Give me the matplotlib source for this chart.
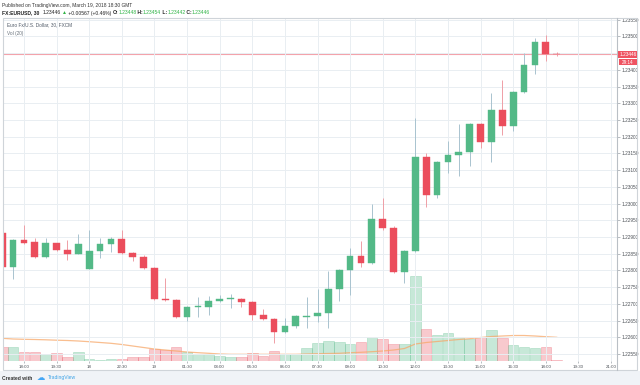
import matplotlib
matplotlib.use('Agg')
import matplotlib.pyplot as plt
import numpy as np
from matplotlib.patches import Rectangle
from matplotlib.lines import Line2D

# ---------------- data ----------------
candle_times = (['17:00', '17:30', '18:00', '18:30', '19:00', '19:30', '20:00', '20:30'] +
                ['21:00', '21:30', '22:00', '22:30', '23:00', '23:30'] +
                ['%02d:%02d' % (h, m) for h in range(0, 19) for m in (0, 30)])
opens = [1.22911, 1.22810, 1.22891, 1.22884, 1.22841, 1.22881, 1.22861, 1.22850,
         1.22805, 1.22858, 1.22878, 1.22894, 1.22853, 1.22841,
         1.22808, 1.22715, 1.22712, 1.22660, 1.22690, 1.22692, 1.22708, 1.22714,
         1.22715, 1.22705, 1.22666, 1.22656, 1.22615, 1.22634, 1.22662, 1.22664,
         1.22672, 1.22745, 1.22802, 1.22844, 1.22822, 1.22954, 1.22926, 1.22795,
         1.22858, 1.23138, 1.23026, 1.23124, 1.23144, 1.23154, 1.23238, 1.23183,
         1.23281, 1.23231, 1.23334, 1.23415, 1.23482, 1.23448]
highs = [1.22915, 1.22893, 1.22937, 1.22898, 1.22898, 1.22883, 1.22891, 1.22908,
         1.22921, 1.22898, 1.22901, 1.22921, 1.22855, 1.22845,
         1.22810, 1.22778, 1.22714, 1.22694, 1.22719, 1.22724, 1.22727, 1.22730,
         1.22718, 1.22707, 1.22684, 1.22658, 1.22659, 1.22667, 1.22719, 1.22744,
         1.22799, 1.22805, 1.22866, 1.22888, 1.22999, 1.23016, 1.22934, 1.22860,
         1.23257, 1.23151, 1.23127, 1.23188, 1.23239, 1.23242, 1.23240, 1.23332,
         1.23370, 1.23336, 1.23450, 1.23495, 1.23505, 1.23454]
lows = [1.22805, 1.22774, 1.22880, 1.22838, 1.22837, 1.22858, 1.22831, 1.22848,
        1.22803, 1.22838, 1.22856, 1.22850, 1.22828, 1.22805,
        1.22712, 1.22708, 1.22657, 1.22650, 1.22662, 1.22666, 1.22705, 1.22687,
        1.22690, 1.22652, 1.22653, 1.22582, 1.22612, 1.22627, 1.22627, 1.22645,
        1.22627, 1.22709, 1.22725, 1.22811, 1.22818, 1.22922, 1.22792, 1.22762,
        1.22855, 1.22991, 1.23016, 1.23091, 1.23081, 1.23111, 1.23166, 1.23123,
        1.23206, 1.23218, 1.23330, 1.23387, 1.23425, 1.23442]
closes = [1.22810, 1.22891, 1.22883, 1.22841, 1.22881, 1.22861, 1.22849, 1.22878,
          1.22858, 1.22879, 1.22894, 1.22853, 1.22841, 1.22807,
          1.22715, 1.22710, 1.22660, 1.22692, 1.22694, 1.22709, 1.22715, 1.22716,
          1.22705, 1.22666, 1.22656, 1.22615, 1.22634, 1.22664, 1.22665, 1.22672,
          1.22745, 1.22802, 1.22844, 1.22822, 1.22954, 1.22926, 1.22795, 1.22858,
          1.23138, 1.23026, 1.23124, 1.23144, 1.23154, 1.23238, 1.23183, 1.23281,
          1.23231, 1.23334, 1.23415, 1.23482, 1.23448, 1.23446]
volumes = [1400, 1400, 930, 900, 670, 770, 400, 870, 200, 100, 200, 230, 400, 400,
           1200, 1100, 1400, 870, 730, 730, 530, 430, 400, 770, 500, 1000, 700, 700,
           1330, 1770, 2000, 1870, 1700, 1870, 2370, 2170, 1670, 1670, 8500, 3200,
           2570, 2770, 2370, 2170, 2370, 3100, 2300, 1600, 1400, 1270, 1370, 100]
vol_ma20 = [2270, 2200, 2170, 2150, 2120, 2080, 2050, 2000, 1930, 1850, 1770, 1650,
            1500, 1350, 1200, 1100, 1000, 900, 830, 770, 700, 670, 670, 670, 670,
            670, 670, 670, 700, 730, 750, 770, 830, 870, 930, 1000, 1100, 1250, 1700,
            1850, 1950, 2050, 2150, 2230, 2350, 2450, 2500, 2550, 2550, 2500, 2430, 2370]
time_tick_labels = ['18:00', '19:30', '18', '22:30', '19', '01:30', '03:00', '04:30',
                    '06:00', '07:30', '09:00', '10:30', '12:00', '13:30', '15:00',
                    '16:30', '18:00', '19:30', '21:00']
price_ticks = [1.22550, 1.22600, 1.22650, 1.22700, 1.22750, 1.22800, 1.22850,
               1.22900, 1.22950, 1.23000, 1.23050, 1.23100, 1.23150, 1.23200,
               1.23250, 1.23300, 1.23350, 1.23400, 1.23450, 1.23500, 1.23550]
last_price = 1.23446
countdown = '29:14'

# ---------------- figure ----------------
W, H = 640, 385
fig = plt.figure(figsize=(6.4, 3.85), dpi=100)
fig.patch.set_facecolor('white')
FONT = ['Liberation Sans', 'DejaVu Sans']
plt.rcParams['font.family'] = FONT


def rect_px(x0, y0, x1, y1):
    return [x0 / W, 1 - y1 / H, (x1 - x0) / W, (y1 - y0) / H]


def fx(x):
    return x / W


def fy(y):
    return 1 - y / H


# bottom grey band
fig.add_artist(Rectangle((0, 0), 1, fy(371), transform=fig.transFigure,
                         facecolor='#f0f3f7', edgecolor='none', zorder=0))

UP = '#53b987'
DOWN = '#eb4d5c'
UP_WICK = '#a9c3cf'
DOWN_WICK = '#ef9ea6'

n = len(opens)
x = np.arange(n) - 2
o = np.array(opens); h = np.array(highs); l = np.array(lows); c = np.array(closes)
up = c >= o

axv = fig.add_axes(rect_px(3, 18, 617, 361))
ax = fig.add_axes(rect_px(3, 18, 617, 361), sharex=axv)
ax.set_zorder(axv.get_zorder() + 1)
ax.patch.set_visible(False)

xlim = (-1.93, 54.55)
axv.set_xlim(*xlim)
ax.set_ylim(1.22529, 1.23555)
axv.set_ylim(0, 34300)

# volume
vcols = [(83/255, 185/255, 135/255, 0.32) if u else (235/255, 77/255, 92/255, 0.30) for u in up]
vedge = [(83/255, 185/255, 135/255, 0.45) if u else (235/255, 77/255, 92/255, 0.45) for u in up]
axv.bar(x, volumes, width=0.97, color=vcols, edgecolor=vedge, linewidth=0.4, zorder=2)
axv.plot(x, vol_ma20, color='#f7a86a', lw=0.9, alpha=0.75, zorder=3)
for a in (axv, ax):
    for s in a.spines.values():
        s.set_visible(False)
axv.set_yticks([])
axv.tick_params(axis='x', which='both', length=0, labelbottom=False)

# grid / ticks
ax.set_xticks(np.arange(0, 55, 3))
ax.set_xticklabels(time_tick_labels)
ax.set_yticks(price_ticks)
# the tick label nearest the last-price label is hidden by it, as in the reference
ax.set_yticklabels(['' if abs(p - last_price) < 0.0002 else '%.5f' % p for p in price_ticks])
ax.grid(True, color='#e9eef2', lw=0.7, zorder=0)
ax.yaxis.tick_right()
ax.tick_params(axis='y', direction='out', length=2, width=0.5, color='#9aa1a8',
               labelsize=3.4, labelcolor='#4a4f55', pad=1.2)
ax.tick_params(axis='x', direction='out', length=1.5, width=0.5, color='#9aa1a8',
               labelsize=3.2, labelcolor='#4a4f55', pad=1.3)

# current price line
ax.axhline(last_price, color='#f3a3ab', lw=0.8, zorder=1)

# candles
body_bottom = np.minimum(o, c)
body_h = np.maximum(np.abs(c - o), 0.00002)
ax.vlines(x[up], l[up], h[up], color=UP_WICK, lw=0.7, zorder=3)
ax.vlines(x[~up], l[~up], h[~up], color=DOWN_WICK, lw=0.7, zorder=3)
cols = [UP if u else DOWN for u in up]
ax.bar(x, body_h, bottom=body_bottom, width=0.62, color=cols, edgecolor=cols,
       linewidth=0.3, zorder=4)

# frame lines
fig.add_artist(Rectangle((fx(3), fy(370)), fx(634), (370 - 18) / H, transform=fig.transFigure,
                         facecolor='none', edgecolor='#cfd4d9', lw=0.8, zorder=10))
fig.add_artist(Line2D([fx(617), fx(617)], [fy(18), fy(370)], transform=fig.transFigure,
                      color='#b9bfc5', lw=0.8, zorder=10))

# last price label
py = 54.3
fig.add_artist(Rectangle((fx(617.5), fy(58.2)), fx(19.5), 7.6 / H, transform=fig.transFigure,
                         facecolor='#ef5361', edgecolor='none', zorder=11))
fig.text(fx(619.5), fy(py), '%.5f' % last_price, fontsize=3.4, color='white',
         va='center', ha='left', zorder=12)
fig.add_artist(Rectangle((fx(618.5), fy(65.2)), fx(18.5), 6.6 / H, transform=fig.transFigure,
                         facecolor='#ef5361', edgecolor='none', zorder=11))
fig.text(fx(627.5), fy(62), countdown, fontsize=3.3, color='white',
         va='center', ha='center', zorder=12)

# legends inside chart
fig.text(fx(7), fy(25), 'Euro Fx/U.S. Dollar, 30, FXCM', fontsize=3.4, color='#4f5966',
         va='center', ha='left')
fig.text(fx(7), fy(33.3), 'Vol (20)', fontsize=3.4, color='#6a737c', va='center', ha='left')

# header
renderer = fig.canvas.get_renderer()


def seq(x0, y0, parts, size, target_w=None, family=FONT):
    # measure at the given size, then rescale so the run spans target_w pixels
    if target_w is not None:
        tot = 0
        for s, col, w in parts:
            t = fig.text(0, 0, s, fontsize=size, fontweight=w, family=family)
            tot += t.get_window_extent(renderer).width
            t.remove()
        size = size * target_w / tot
    xx = x0
    for s, col, w in parts:
        t = fig.text(fx(xx), fy(y0), s, color=col, fontsize=size, fontweight=w,
                     va='center', ha='left', family=family)
        xx += t.get_window_extent(renderer).width
    return xx


K = '#222222'
G = '#2fb344'
seq(2.5, 5, [('Published on TradingView.com, March 19, 2018 18:30 GMT', '#333333', 'normal')],
    3.5, target_w=129.5)
seq(2.5, 13, [('FX:EURUSD, 30', K, 'bold'), ('  ', K, 'normal'),
              ('1.23446', K, 'normal'), (' ', K, 'normal'),
              ('\u25b2', G, 'normal'), (' +0.00567 (+0.46%) ', K, 'normal'),
              ('O:', K, 'bold'), ('1.23448', G, 'normal'), (' H:', K, 'bold'),
              ('1.23454', G, 'normal'), (' L:', K, 'bold'), ('1.23442', G, 'normal'),
              (' C:', K, 'bold'), ('1.23446', G, 'normal')], 3.5, target_w=210)

# footer
fig.text(fx(2.5), fy(378), 'Created with', fontsize=3.6, color='#333333', va='center',
         ha='left', fontweight='bold')
fig.text(fx(36.5), fy(377.5), '\u2601', fontsize=6, color='#42a5f5', va='center', ha='left',
         family=['DejaVu Sans'])
fig.text(fx(48), fy(378), 'TradingView', fontsize=3.6, color='#3ea3e6', va='center', ha='left')

fig.savefig('out.png', dpi=100, facecolor=fig.get_facecolor())
